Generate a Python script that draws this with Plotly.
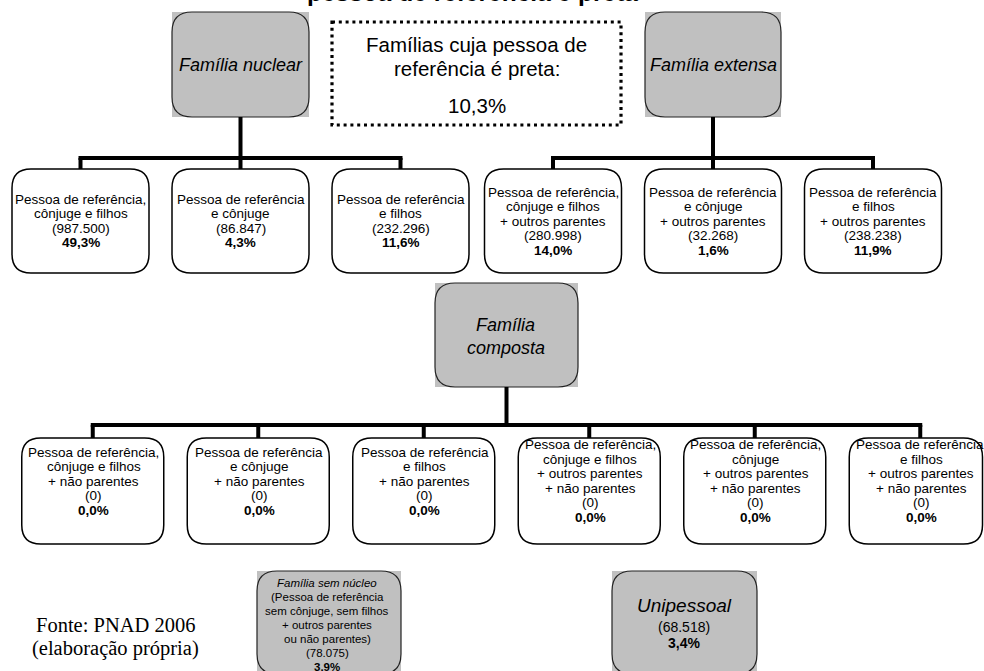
import plotly.graph_objects as go

W, H = 984, 671

# ---------------- data ----------------
title_text = "pessoa de referência é preta"
black_head_share = 10.3
share_lines = ["Famílias cuja pessoa de", "referência é preta:"]

nuclear_name = "Família nuclear"
extensa_name = "Família extensa"
composta_name = ["Família", "composta"]

nuclear_labels = [["Pessoa de referência,", "cônjuge e filhos"],
                  ["Pessoa de referência", "e cônjuge"],
                  ["Pessoa de referência", "e filhos"]]
nuclear_counts = [987500, 86847, 232296]
nuclear_pct = [49.3, 4.3, 11.6]

extensa_labels = [["Pessoa de referência,", "cônjuge e filhos", "+ outros parentes"],
                  ["Pessoa de referência", "e cônjuge", "+ outros parentes"],
                  ["Pessoa de referência", "e filhos", "+ outros parentes"]]
extensa_counts = [280998, 32268, 238238]
extensa_pct = [14.0, 1.6, 11.9]

composta_labels = [["Pessoa de referência,", "cônjuge e filhos", "+ não parentes"],
                   ["Pessoa de referência", "e cônjuge", "+ não parentes"],
                   ["Pessoa de referência", "e filhos", "+ não parentes"],
                   ["Pessoa de referência,", "cônjuge e filhos", "+ outros parentes", "+ não parentes"],
                   ["Pessoa de referência,", "cônjuge", "+ outros parentes", "+ não parentes"],
                   ["Pessoa de referência,", "e filhos", "+ outros parentes", "+ não parentes"]]
composta_counts = [0, 0, 0, 0, 0, 0]
composta_pct = [0.0, 0.0, 0.0, 0.0, 0.0, 0.0]

sem_nucleo_name = "Família sem núcleo"
sem_nucleo_labels = ["(Pessoa de referência", "sem cônjuge, sem filhos",
                     "+ outros parentes", "ou não parentes)"]
sem_nucleo_count = 78075
sem_nucleo_pct_text = "3.9%"

unipessoal_name = "Unipessoal"
unipessoal_count = 68518
unipessoal_pct = 3.4

source_lines = ["Fonte: PNAD 2006", "(elaboração própria)"]

# ---------------- helpers ----------------
SANS = "Liberation Sans, Arial, Helvetica, sans-serif"
SERIF = "Liberation Serif, Times New Roman, serif"
GRAY = "#c0c0c0"


def fmt_int(n):
    return "(" + f"{n:,}".replace(",", ".") + ")"


def fmt_pct(p):
    return f"{p:.1f}".replace(".", ",") + "%"


def rounded_path(x0, y0, x1, y1, r):
    return (f"M {x0 + r},{y0} L {x1 - r},{y0} Q {x1},{y0} {x1},{y0 + r} "
            f"L {x1},{y1 - r} Q {x1},{y1} {x1 - r},{y1} "
            f"L {x0 + r},{y1} Q {x0},{y1} {x0},{y1 - r} "
            f"L {x0},{y0 + r} Q {x0},{y0} {x0 + r},{y0} Z")


shapes = []
annotations = []


def text(x, y, s, size, family=SANS, bold=False, italic=False, yanchor="middle"):
    if bold:
        s = f"<b>{s}</b>"
    if italic:
        s = f"<i>{s}</i>"
    annotations.append(dict(x=x, y=y, xref="x", yref="y", text=s, showarrow=False,
                            xanchor="center", yanchor=yanchor,
                            font=dict(family=family, size=size, color="black")))


def gray_box(x0, y0, x1, y1, r=20):
    shapes.append(dict(type="rect", x0=x0, y0=y0, x1=x1, y1=y1, xref="x", yref="y",
                       fillcolor=GRAY, line=dict(width=0), layer="below"))
    shapes.append(dict(type="path", path=rounded_path(x0, y0, x1, y1, r), xref="x", yref="y",
                       line=dict(color="#222222", width=1.2)))


def white_box(x0, y0, x1, y1, r=19):
    shapes.append(dict(type="path", path=rounded_path(x0, y0, x1, y1, r), xref="x", yref="y",
                       fillcolor="white", line=dict(color="black", width=1.5)))


def seg(x0, y0, x1, y1, w=4):
    shapes.append(dict(type="line", x0=x0, y0=y0, x1=x1, y1=y1, xref="x", yref="y",
                       line=dict(color="black", width=w)))


def leaf_text(cx, cy, lines, count, pct, size=13.5, step=14.5):
    allines = list(lines) + [fmt_int(count), fmt_pct(pct)]
    n = len(allines)
    for i, ln in enumerate(allines):
        y = cy + (i - (n - 1) / 2) * step
        text(cx, y, ln, size, bold=(i == n - 1))


# ---------------- geometry ----------------
TOP_Y0, TOP_Y1 = 12, 117
ROW1_Y0, ROW1_Y1, ROW1_BAR = 169, 273, 158
ROW2_Y0, ROW2_Y1, ROW2_BAR = 438, 544, 425
COMP_Y0, COMP_Y1 = 283, 387
BOT_Y0, BOT_Y1 = 571, 674

nuc_cx, ext_cx, comp_cx = 240.5, 713.0, 506.5
row1_step, row1_half = 160, 68.5
row2_step, row2_half = 165.5, 71

# title (clipped at the top, as in the source image)
text(472, 8, f"<b>{title_text}</b>", 24.5, yanchor="bottom")

# top group boxes
gray_box(nuc_cx - 68.5, TOP_Y0, nuc_cx + 68.5, TOP_Y1)
text(nuc_cx, 65, nuclear_name, 18, italic=True)
gray_box(ext_cx - 68, TOP_Y0, ext_cx + 68, TOP_Y1)
text(ext_cx, 65, extensa_name, 18, italic=True)

# dotted box
shapes.append(dict(type="rect", x0=332, y0=22, x1=621, y1=125, xref="x", yref="y",
                   line=dict(color="black", width=3.2, dash="3px,3.8px")))
text(476.5, 44, share_lines[0], 20.5)
text(476.5, 68, share_lines[1], 20.5)
text(476.5, 105, fmt_pct(black_head_share), 20.5)

# nuclear + extensa trees
for gcx, labels, counts, pcts in [(nuc_cx, nuclear_labels, nuclear_counts, nuclear_pct),
                                  (ext_cx, extensa_labels, extensa_counts, extensa_pct)]:
    seg(gcx, TOP_Y1, gcx, ROW1_BAR)
    centers = [gcx + (i - 1) * row1_step for i in range(len(labels))]
    seg(centers[0] - 2, ROW1_BAR, centers[-1] + 2, ROW1_BAR)
    for cx, lab, c, p in zip(centers, labels, counts, pcts):
        seg(cx, ROW1_BAR, cx, ROW1_Y0)
        white_box(cx - row1_half, ROW1_Y0, cx + row1_half, ROW1_Y1)
        leaf_text(cx, (ROW1_Y0 + ROW1_Y1) / 2, lab, c, p)

# composta tree
gray_box(comp_cx - 71.5, COMP_Y0, comp_cx + 71.5, COMP_Y1)
text(comp_cx - 1, 325, composta_name[0], 18, italic=True)
text(comp_cx - 1, 348, composta_name[1], 18, italic=True)
seg(comp_cx, COMP_Y1, comp_cx, ROW2_BAR)
centers2 = [comp_cx + (i - 2.5) * row2_step for i in range(len(composta_labels))]
seg(centers2[0] - 2, ROW2_BAR, centers2[-1] + 2, ROW2_BAR)
for cx, lab, c, p in zip(centers2, composta_labels, composta_counts, composta_pct):
    seg(cx, ROW2_BAR, cx, ROW2_Y0)
    white_box(cx - row2_half, ROW2_Y0, min(cx + row2_half, W - 1.5), ROW2_Y1)
    leaf_text(cx + 1, 481, lab, c, p)

# bottom boxes
gray_box(257, BOT_Y0, 401, BOT_Y1)
sn_lines = [sem_nucleo_name] + sem_nucleo_labels + [fmt_int(sem_nucleo_count), sem_nucleo_pct_text]
for i, ln in enumerate(sn_lines):
    text(327, 583 + i * 14.0, ln, 11.5, italic=(i == 0), bold=(i == len(sn_lines) - 1))

gray_box(612, BOT_Y0, 757, BOT_Y1)
text(684, 605, unipessoal_name, 19, italic=True)
text(684, 627, fmt_int(unipessoal_count), 14)
text(684, 643, fmt_pct(unipessoal_pct), 14, bold=True)

# source
text(115, 625, source_lines[0], 20.5, family=SERIF)
text(115, 648, source_lines[1], 20.5, family=SERIF)

fig = go.Figure()
fig.add_trace(go.Scatter(x=[nuc_cx, ext_cx, comp_cx], y=[64, 64, 335], mode="markers",
                         marker=dict(opacity=0), hoverinfo="skip", showlegend=False))
fig.update_layout(
    width=W, height=H,
    margin=dict(l=0, r=0, t=0, b=0),
    paper_bgcolor="white", plot_bgcolor="white",
    xaxis=dict(range=[0, W], visible=False, fixedrange=True),
    yaxis=dict(range=[H, 0], visible=False, fixedrange=True),
    shapes=shapes, annotations=annotations, showlegend=False,
)
fig.write_html("out.html", config={"displayModeBar": False, "staticPlot": True},
               post_script="document.body.style.margin='0px';document.body.style.overflow='hidden';")
